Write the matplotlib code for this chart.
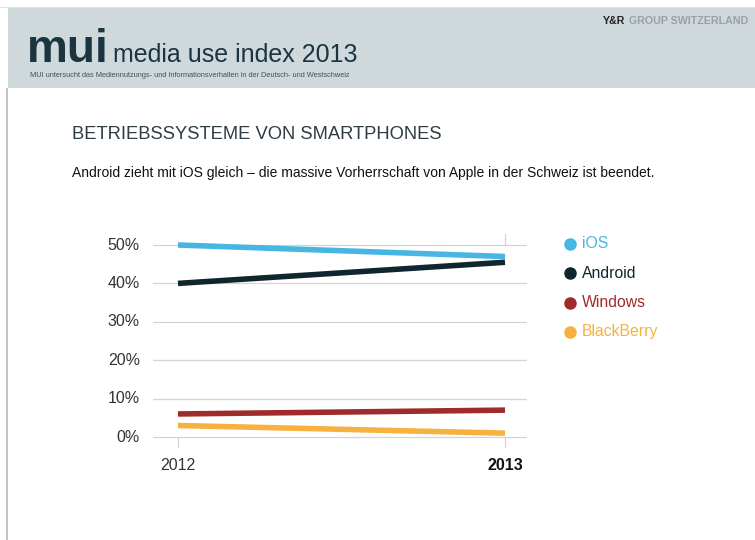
import matplotlib
matplotlib.use("Agg")
import matplotlib.pyplot as plt
from matplotlib.patches import Rectangle
from matplotlib.lines import Line2D

plt.rcParams['font.family'] = ['Liberation Sans', 'DejaVu Sans']

years = [2012, 2013]
series = ["iOS", "Android", "Windows", "BlackBerry"]
values = {
    "iOS": [50, 47],
    "Android": [40, 45.5],
    "Windows": [6, 7],
    "BlackBerry": [3, 1],
}
colors = {
    "iOS": "#47b6e2",
    "Android": "#10262e",
    "Windows": "#a02b2b",
    "BlackBerry": "#f6b13f",
}
yticks = [0, 10, 20, 30, 40, 50]

W, H = 755, 540
fig = plt.figure(figsize=(W / 100, H / 100), dpi=100)


def px(x, y):
    return x / W, 1 - y / H


# header band and page border
fig.patches.append(Rectangle(px(8, 88), (W - 8) / W, 80 / H, transform=fig.transFigure,
                             facecolor="#cfd9dc", edgecolor="none", zorder=0))
fig.patches.append(Rectangle(px(0, 8), 1, 1.2 / H, transform=fig.transFigure,
                             facecolor="#e2e2e2", edgecolor="none", zorder=0))
fig.patches.append(Rectangle(px(6, H), 2 / W, (H - 88) / H, transform=fig.transFigure,
                             facecolor="#c4c4c4", edgecolor="none", zorder=0))

fig.text(*px(27, 62), "mui", fontsize=33, color="#1a3440", fontweight="bold",
         va="baseline", ha="left")
fig.text(*px(113, 62), "media use index 2013", fontsize=18, color="#1a3440",
         va="baseline", ha="left")
fig.text(*px(30, 77), "MUI untersucht das Mediennutzungs- und Informationsverhalten in der Deutsch- und Westschweiz",
         fontsize=5.3, color="#40525a", va="baseline", ha="left")
fig.text(*px(603, 24), "Y&R", fontsize=7.7, color="#222222", fontweight="bold",
         va="baseline", ha="left")
fig.text(*px(629, 24), "GROUP SWITZERLAND", fontsize=7.7, color="#9aa0a3", fontweight="bold",
         va="baseline", ha="left")

fig.text(*px(72, 139), "BETRIEBSSYSTEME VON SMARTPHONES", fontsize=13.2, color="#2d3d43",
         va="baseline", ha="left")
fig.text(*px(72, 177), "Android zieht mit iOS gleich \u2013 die massive Vorherrschaft von Apple in der Schweiz ist beendet.",
         fontsize=10, color="#111111", va="baseline", ha="left")

# axes placement: 2012 at x=178, 2013 at x=505, 0% at y=437, 50% at y=245
ax_l, ax_r, ax_t, ax_b = 153, 527, 232, 450
ax = fig.add_axes([ax_l / W, 1 - ax_b / H, (ax_r - ax_l) / W, (ax_b - ax_t) / H])
ax.set_xlim(2012 - 25 / 327, 2013 + 22 / 327)
ppv = (437 - 245) / 50
ax.set_ylim(-(ax_b - 437) / ppv, 50 + (245 - ax_t) / ppv)
ax.axis("off")

for t in yticks:
    ax.axhline(t, color="#d4d4d4", lw=0.9, zorder=1)
    ax.text(-0.035, t, f"{t}%", transform=ax.get_yaxis_transform(), ha="right",
            va="center", fontsize=11.5, color="#333333")

for yr in years:
    ax.plot([yr, yr], [-2.6, 0], color="#d4d4d4", lw=0.9, zorder=1)
ax.plot([years[1], years[1]], [50, 52.8], color="#d4d4d4", lw=0.9, zorder=1)

for s in series:
    ax.plot(years, values[s], color=colors[s], lw=4, solid_capstyle="butt", zorder=3)

ax.text(years[0], -5.4, str(years[0]), ha="center", va="top", fontsize=11.5, color="#333333")
ax.text(years[1], -5.4, str(years[1]), ha="center", va="top", fontsize=11.5, color="#111111",
        fontweight="bold")

# legend
for i, s in enumerate(series):
    y = 244 + i * 29.3
    fig.add_artist(Line2D([570 / W], [1 - y / H], marker="o", markersize=8, color=colors[s],
                          transform=fig.transFigure, linestyle="none"))
    fig.text(*px(582, y), s, fontsize=11.3, color=colors[s], va="center", ha="left")

fig.savefig("out.png", dpi=100, facecolor="white")
